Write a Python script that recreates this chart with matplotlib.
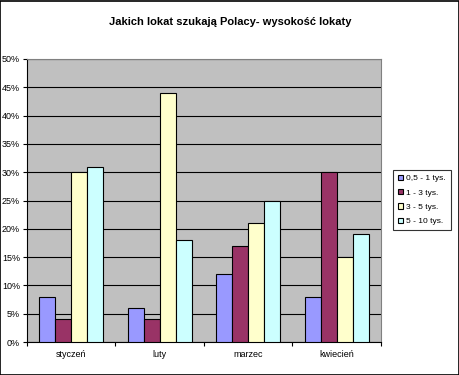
import numpy as np
import matplotlib.pyplot as plt
from matplotlib.ticker import FixedLocator, PercentFormatter

plt.rcParams['font.family'] = ['Liberation Sans', 'DejaVu Sans']

months = ["styczeń", "luty", "marzec", "kwiecień"]
series = ["0,5 - 1 tys.", "1 - 3 tys.", "3 - 5 tys.", "5 - 10 tys."]
v_05_1 = [8, 6, 12, 8]
v_1_3 = [4, 4, 17, 30]
v_3_5 = [30, 44, 21, 15]
v_5_10 = [31, 18, 25, 19]
colors = ["#9999FF", "#993366", "#FFFFCC", "#CCFFFF"]

fig = plt.figure(figsize=(4.6, 3.75), dpi=100)
ax = fig.add_axes([27 / 460, 1 - 342 / 375, 354 / 460, 283 / 375])
ax.set_facecolor("#C0C0C0")

x = np.arange(len(months))
w = 0.18
for i, (vals, c, lab) in enumerate(zip([v_05_1, v_1_3, v_3_5, v_5_10], colors, series)):
    ax.bar(x + (i - 1.5) * w, vals, w, color=c, edgecolor="black", linewidth=0.8,
           label=lab, zorder=3)

ax.set_xlim(-0.5, 3.5)
ax.set_ylim(0, 50)
ax.set_yticks(range(0, 51, 5))
ax.yaxis.set_major_formatter(PercentFormatter(decimals=0))
ax.yaxis.grid(True, color="black", linewidth=0.8, zorder=1)
ax.set_xticks(x)
ax.set_xticklabels(months)
ax.xaxis.set_minor_locator(FixedLocator(np.arange(-0.5, 4, 1)))
ax.tick_params(axis="x", which="major", length=0, labelsize=6.5, pad=6)
ax.tick_params(axis="x", which="minor", length=3, width=0.8)
ax.tick_params(axis="y", length=3, width=0.8, labelsize=6.5, pad=2)
for s in ["top", "right"]:
    ax.spines[s].set_color("#808080")
    ax.spines[s].set_linewidth(0.8)
for s in ["left", "bottom"]:
    ax.spines[s].set_linewidth(0.8)

fig.text(0.5, 1 - 22 / 375, "Jakich lokat szukają Polacy- wysokość lokaty",
         ha="center", va="center", fontsize=8, fontweight="bold")

leg = fig.legend(loc="center", bbox_to_anchor=(422 / 460, 1 - 200 / 375),
                 fontsize=6, frameon=True, fancybox=False, edgecolor="black",
                 handlelength=0.6, handleheight=0.6, handletextpad=0.4,
                 labelspacing=0.8, borderpad=0.6)
leg.get_frame().set_linewidth(0.8)

fig.patches.append(plt.Rectangle((0.001, 0.001), 0.997, 0.997, transform=fig.transFigure,
                                 fill=False, edgecolor="black", linewidth=1.2))

fig.savefig("out.png", dpi=100)
